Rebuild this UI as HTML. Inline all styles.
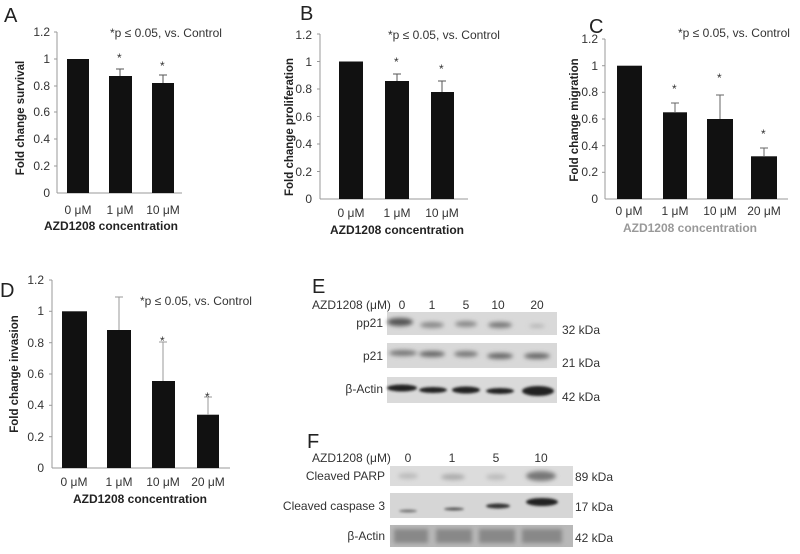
<!DOCTYPE html>
<html><head><meta charset="utf-8"><style>
html,body{margin:0;padding:0;background:#fff}
svg{display:block}
text{font-family:"Liberation Sans",Arial,sans-serif;fill:#333}
.t{font-size:12px}
.yl{font-size:11.5px;font-weight:bold;fill:#222}
.xl{font-size:12px;font-weight:bold;fill:#222}
.big{font-size:20px;fill:#222}
</style></head><body>
<svg width="800" height="554" viewBox="0 0 800 554" xmlns="http://www.w3.org/2000/svg">
<defs>
<filter id="bl" x="-30%" y="-100%" width="160%" height="300%"><feGaussianBlur stdDeviation="2"/></filter>
<filter id="bl2" x="-30%" y="-100%" width="160%" height="300%"><feGaussianBlur stdDeviation="1.2"/></filter>
</defs>

<!-- Panel A -->
<text x="4" y="22" class="big">A</text>
<line x1="57" y1="32" x2="57" y2="193" stroke="#999"/>
<line x1="57" y1="193" x2="182" y2="193" stroke="#999"/>
<g stroke="#999"><line x1="54" y1="32" x2="57" y2="32"/><line x1="54" y1="59" x2="57" y2="59"/><line x1="54" y1="86" x2="57" y2="86"/><line x1="54" y1="112" x2="57" y2="112"/><line x1="54" y1="139" x2="57" y2="139"/><line x1="54" y1="166" x2="57" y2="166"/></g>
<g class="t" text-anchor="end"><text x="50" y="36">1.2</text><text x="50" y="63">1</text><text x="50" y="90">0.8</text><text x="50" y="116">0.6</text><text x="50" y="143">0.4</text><text x="50" y="170">0.2</text><text x="50" y="197">0</text></g>
<rect x="67" y="59" width="22" height="134" fill="#111"/>
<rect x="109" y="76" width="23" height="117" fill="#111"/>
<rect x="152" y="83" width="22" height="110" fill="#111"/>
<g stroke="#555"><line x1="120" y1="76" x2="120" y2="69"/><line x1="116" y1="69" x2="124" y2="69"/><line x1="163" y1="83" x2="163" y2="75"/><line x1="159" y1="75" x2="167" y2="75"/></g>
<text x="117" y="62" class="t">*</text><text x="160" y="70" class="t">*</text>
<text x="110" y="37" class="t" font-size="11">*p ≤ 0.05, vs.  Control</text>
<g class="t" text-anchor="middle"><text x="78" y="214">0 μM</text><text x="120" y="214">1 μM</text><text x="163" y="214">10 μM</text></g>
<text x="111" y="230" class="xl" text-anchor="middle">AZD1208  concentration</text>
<text transform="translate(24,118) rotate(-90)" class="yl" text-anchor="middle">Fold change survival</text>

<!-- Panel B -->
<text x="300" y="20" class="big">B</text>
<line x1="320" y1="34" x2="320" y2="199" stroke="#999"/>
<line x1="320" y1="199" x2="468" y2="199" stroke="#999"/>
<g stroke="#999"><line x1="317" y1="34" x2="320" y2="34"/><line x1="317" y1="61.5" x2="320" y2="61.5"/><line x1="317" y1="89" x2="320" y2="89"/><line x1="317" y1="116.5" x2="320" y2="116.5"/><line x1="317" y1="144" x2="320" y2="144"/><line x1="317" y1="171.5" x2="320" y2="171.5"/></g>
<g class="t" text-anchor="end"><text x="312" y="39">1.2</text><text x="312" y="66">1</text><text x="312" y="93">0.8</text><text x="312" y="121">0.6</text><text x="312" y="148">0.4</text><text x="312" y="176">0.2</text><text x="312" y="203">0</text></g>
<rect x="339" y="61.5" width="24" height="137.5" fill="#111"/>
<rect x="385" y="81" width="24" height="118" fill="#111"/>
<rect x="431" y="92" width="23" height="107" fill="#111"/>
<g stroke="#555"><line x1="397" y1="81" x2="397" y2="74"/><line x1="393" y1="74" x2="401" y2="74"/><line x1="442" y1="92" x2="442" y2="81"/><line x1="438" y1="81" x2="446" y2="81"/></g>
<text x="394" y="66" class="t">*</text><text x="439" y="73" class="t">*</text>
<text x="388" y="39" class="t" font-size="11">*p ≤ 0.05, vs.  Control</text>
<g class="t" text-anchor="middle"><text x="351" y="217">0 μM</text><text x="397" y="217">1 μM</text><text x="442" y="217">10 μM</text></g>
<text x="397" y="234" class="xl" text-anchor="middle">AZD1208  concentration</text>
<text transform="translate(293,127) rotate(-90)" class="yl" text-anchor="middle">Fold change proliferation</text>

<!-- Panel C -->
<text x="589" y="33" class="big">C</text>
<line x1="605" y1="39" x2="605" y2="199" stroke="#999"/>
<line x1="605" y1="199" x2="788" y2="199" stroke="#999"/>
<g stroke="#999"><line x1="602" y1="39" x2="605" y2="39"/><line x1="602" y1="65.7" x2="605" y2="65.7"/><line x1="602" y1="92.3" x2="605" y2="92.3"/><line x1="602" y1="119" x2="605" y2="119"/><line x1="602" y1="145.7" x2="605" y2="145.7"/><line x1="602" y1="172.3" x2="605" y2="172.3"/></g>
<g class="t" text-anchor="end" font-size="11"><text x="598" y="43">1.2</text><text x="598" y="70">1</text><text x="598" y="96">0.8</text><text x="598" y="123">0.6</text><text x="598" y="150">0.4</text><text x="598" y="176">0.2</text><text x="598" y="203">0</text></g>
<rect x="617" y="65.7" width="25" height="133.3" fill="#111"/>
<rect x="663" y="112.3" width="24" height="86.7" fill="#111"/>
<rect x="707" y="119" width="26" height="80" fill="#111"/>
<rect x="751" y="156.3" width="26" height="42.7" fill="#111"/>
<g stroke="#666"><line x1="675" y1="112" x2="675" y2="103"/><line x1="671" y1="103" x2="679" y2="103"/><line x1="720" y1="119" x2="720" y2="95"/><line x1="716" y1="95" x2="724" y2="95"/><line x1="764" y1="156" x2="764" y2="148"/><line x1="760" y1="148" x2="768" y2="148"/></g>
<text x="672" y="93" class="t">*</text><text x="717" y="82" class="t">*</text><text x="761" y="138" class="t">*</text>
<text x="678" y="37" class="t" font-size="11">*p ≤ 0.05, vs.  Control</text>
<g class="t" text-anchor="middle" font-size="11"><text x="629" y="215">0 μM</text><text x="675" y="215">1 μM</text><text x="720" y="215">10 μM</text><text x="764" y="215">20 μM</text></g>
<text x="690" y="232" class="xl" text-anchor="middle" style="fill:#999">AZD1208  concentration</text>
<text transform="translate(578,120) rotate(-90)" class="yl" text-anchor="middle">Fold change migration</text>

<!-- Panel D -->
<text x="0" y="297" class="big">D</text>
<line x1="52" y1="280" x2="52" y2="468" stroke="#999"/>
<line x1="52" y1="468" x2="230" y2="468" stroke="#999"/>
<g stroke="#999"><line x1="49" y1="280" x2="52" y2="280"/><line x1="49" y1="311.3" x2="52" y2="311.3"/><line x1="49" y1="342.7" x2="52" y2="342.7"/><line x1="49" y1="374" x2="52" y2="374"/><line x1="49" y1="405.3" x2="52" y2="405.3"/><line x1="49" y1="436.7" x2="52" y2="436.7"/></g>
<g class="t" text-anchor="end" font-size="11"><text x="44" y="284">1.2</text><text x="44" y="315">1</text><text x="44" y="347">0.8</text><text x="44" y="378">0.6</text><text x="44" y="409">0.4</text><text x="44" y="441">0.2</text><text x="44" y="472">0</text></g>
<rect x="62" y="311.3" width="25" height="156.7" fill="#111"/>
<rect x="107" y="330" width="24" height="138" fill="#111"/>
<rect x="152" y="381" width="23" height="87" fill="#111"/>
<rect x="197" y="414.7" width="22" height="53.3" fill="#111"/>
<g stroke="#999"><line x1="119" y1="330" x2="119" y2="297"/><line x1="115" y1="297" x2="123" y2="297"/><line x1="163" y1="381" x2="163" y2="342"/><line x1="159" y1="342" x2="167" y2="342"/><line x1="208" y1="415" x2="208" y2="397"/><line x1="204" y1="397" x2="212" y2="397"/></g>
<text x="160" y="345" class="t" fill="#555">*</text><text x="205" y="401" class="t">*</text>
<text x="140" y="305" class="t" font-size="11">*p ≤ 0.05, vs.  Control</text>
<g class="t" text-anchor="middle" font-size="11"><text x="74" y="486">0 μM</text><text x="119" y="486">1 μM</text><text x="163" y="486">10 μM</text><text x="208" y="486">20 μM</text></g>
<text x="140" y="503" class="xl" text-anchor="middle">AZD1208  concentration</text>
<text transform="translate(18,374) rotate(-90)" class="yl" text-anchor="middle">Fold change invasion</text>

<!-- Panel E -->
<text x="312" y="293" class="big">E</text>
<text x="312" y="309" class="t" font-size="11">AZD1208  (μM)</text>
<g class="t" text-anchor="middle" font-size="11"><text x="402" y="309">0</text><text x="432" y="309">1</text><text x="466" y="309">5</text><text x="498" y="309">10</text><text x="537" y="309">20</text></g>
<g class="t" text-anchor="end" font-size="11"><text x="383" y="327">pp21</text><text x="383" y="360">p21</text><text x="383" y="393">β-Actin</text></g>
<rect x="387" y="312" width="170" height="23" fill="#d9d9d9"/>
<rect x="387" y="343" width="170" height="25" fill="#d8d8d8"/>
<rect x="387" y="377" width="170" height="26" fill="#dadada"/>
<g filter="url(#bl)">
<ellipse cx="400" cy="322" rx="13" ry="4" fill="#555"/><ellipse cx="432" cy="325" rx="12" ry="3" fill="#888"/><ellipse cx="466" cy="324" rx="11" ry="3" fill="#888"/><ellipse cx="500" cy="325" rx="12" ry="3" fill="#777"/><ellipse cx="537" cy="326" rx="8" ry="1.5" fill="#aaa"/>
<ellipse cx="403" cy="353" rx="14" ry="3" fill="#777"/><ellipse cx="432" cy="354" rx="13" ry="3" fill="#666"/><ellipse cx="466" cy="354" rx="12" ry="3" fill="#777"/><ellipse cx="500" cy="356" rx="13" ry="3" fill="#666"/><ellipse cx="537" cy="356" rx="13" ry="3" fill="#666"/>
</g>
<g fill="#222" filter="url(#bl2)">
<ellipse cx="402" cy="388" rx="15" ry="3.5"/><ellipse cx="433" cy="390" rx="14" ry="3"/><ellipse cx="466" cy="390" rx="14" ry="3.5"/><ellipse cx="500" cy="391" rx="14" ry="3"/><ellipse cx="538" cy="391" rx="16" ry="5"/>
</g>
<g class="t" font-size="11"><text x="562" y="334">32 kDa</text><text x="562" y="367">21 kDa</text><text x="562" y="401">42 kDa</text></g>

<!-- Panel F -->
<text x="307" y="448" class="big">F</text>
<text x="312" y="462" class="t" font-size="11">AZD1208  (μM)</text>
<g class="t" text-anchor="middle" font-size="11"><text x="408" y="462">0</text><text x="452" y="462">1</text><text x="496" y="462">5</text><text x="541" y="462">10</text></g>
<g class="t" text-anchor="end" font-size="11"><text x="385" y="480">Cleaved  PARP</text><text x="385" y="510">Cleaved  caspase 3</text><text x="385" y="540">β-Actin</text></g>
<rect x="390" y="466" width="183" height="20" fill="#dcdcdc"/>
<rect x="390" y="493" width="183" height="25" fill="#d6d6d6"/>
<rect x="390" y="525" width="183" height="22" fill="#b8b8b8"/>
<g filter="url(#bl)">
<ellipse cx="408" cy="476" rx="10" ry="3" fill="#bbb"/><ellipse cx="453" cy="477" rx="12" ry="3" fill="#aaa"/><ellipse cx="496" cy="477" rx="10" ry="3" fill="#bbb"/><ellipse cx="541" cy="476" rx="15" ry="5" fill="#777"/>
</g>
<g filter="url(#bl2)">
<ellipse cx="408" cy="511" rx="9" ry="1.5" fill="#777"/><ellipse cx="454" cy="509" rx="10" ry="1.5" fill="#555"/><ellipse cx="498" cy="506" rx="12" ry="2.5" fill="#333"/><ellipse cx="542" cy="502" rx="16" ry="4" fill="#222"/>
</g>
<g filter="url(#bl)" fill="#888">
<rect x="394" y="529" width="34" height="14"/><rect x="436" y="529" width="36" height="14"/><rect x="479" y="529" width="36" height="14"/><rect x="522" y="529" width="40" height="14"/>
</g>
<g class="t" font-size="11"><text x="575" y="481">89 kDa</text><text x="575" y="511">17 kDa</text><text x="575" y="542">42 kDa</text></g>
</svg>
</body></html>
